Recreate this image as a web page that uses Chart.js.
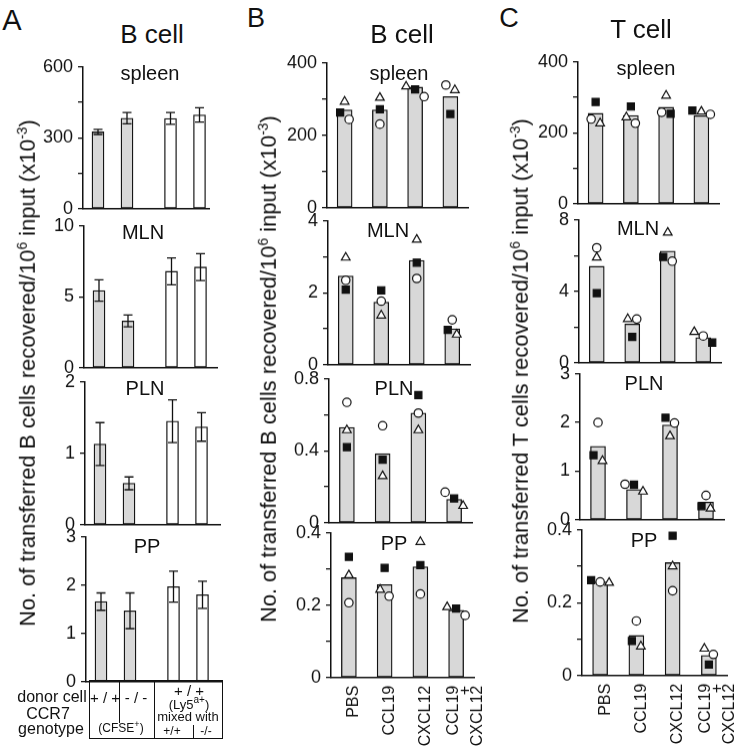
<!DOCTYPE html>
<html>
<head>
<meta charset="utf-8">
<script src="https://cdn.jsdelivr.net/npm/chart.js@4/dist/chart.umd.min.js"></script>
<style>
  body { margin: 0; background: #fff; }
  #fig { position: relative; width: 734px; height: 746px; overflow: hidden;
         font-family: "Liberation Sans", Arial, Helvetica, sans-serif; color: #111; }
  .t { position: absolute; white-space: nowrap; transform: translate(-50%, -50%); line-height: 1; }
  .ln { position: absolute; background: #111; }
</style>
</head>
<body>
<div id="fig"></div>
<script>
// ---- data ----
// panel A: mean +/- error, CCR7 genotype groups
const aGroups = ["+/+", "-/-", "+/+ mixed", "-/- mixed"];
const aSpleen = [325, 383, 382, 397];
const aSpleenErr = [11, 24, 25, 30];
const aMln = [5.45, 3.3, 6.8, 7.1];
const aMlnErr = [0.75, 0.42, 0.95, 0.95];
const aPln = [1.13, 0.58, 1.45, 1.37];
const aPlnErr = [0.3, 0.09, 0.3, 0.2];
const aPp = [1.66, 1.47, 1.97, 1.8];
const aPpErr = [0.18, 0.37, 0.32, 0.28];

// panels B and C: treatments, bar = mean, markers = individual mice
const treatments = ["PBS", "CCL19", "CXCL12", ["CCL19", "+", "CXCL12"]];

const bSpleenMean = [270, 270, 333, 307];
const bSpleenTri = [293, 304, 335, 325];
const bSpleenSq = [263, 272, 327, 259];
const bSpleenCirc = [244, 231, 307, 339];
const bMlnMean = [2.47, 1.74, 2.9, 1.0];
const bMlnTri = [2.98, 1.37, 3.48, 0.84];
const bMlnSq = [2.09, 2.07, 2.84, 0.97];
const bMlnCirc = [2.35, 1.77, 2.4, 1.25];
const bPlnMean = [0.53, 0.384, 0.61, 0.13];
const bPlnTri = [0.515, 0.26, 0.515, 0.094];
const bPlnSq = [0.42, 0.35, 0.71, 0.135];
const bPlnCirc = [0.67, 0.54, 0.61, 0.17];
const bPpMean = [0.276, 0.257, 0.306, 0.186];
const bPpTri = [0.283, 0.243, 0.375, 0.195];
const bPpSq = [0.334, 0.303, 0.311, 0.191];
const bPpCirc = [0.207, 0.225, 0.231, 0.172];

const cSpleenMean = [255, 249, 272, 248];
const cSpleenTri = [227, 244, 305, 260];
const cSpleenSq = [287, 274, 254, 263];
const cSpleenCirc = [239, 227, 258, 252];
const cMlnMean = [5.4, 2.17, 6.25, 1.41];
const cMlnTri = [5.9, 2.45, 7.29, 1.73];
const cMlnSq = [3.9, 1.45, 5.93, 1.13];
const cMlnCirc = [6.44, 2.45, 5.69, 1.5];
const cPlnMean = [1.51, 0.62, 1.95, 0.36];
const cPlnTri = [1.21, 0.58, 1.72, 0.23];
const cPlnSq = [1.33, 0.72, 2.1, 0.28];
const cPlnCirc = [2.0, 0.73, 1.99, 0.5];
const cPpMean = [0.257, 0.11, 0.31, 0.055];
const cPpTri = [0.255, 0.08, 0.30, 0.074];
const cPpSq = [0.262, 0.095, 0.384, 0.03];
const cPpCirc = [0.257, 0.15, 0.233, 0.058];

// ---- layout ----
const FONT = '"Liberation Sans", Arial, Helvetica, sans-serif';
const INK = "#111";
const GRAY = "#d8d8d8";
const aSlots = [1, 2, 3.5, 4.5];   // slot positions for panel A groups (gap before mixed)
const aFill = [GRAY, GRAY, "#fff", "#fff"];

Chart.defaults.font.family = FONT;
Chart.defaults.color = INK;

const fig = document.getElementById("fig");

function text(str, x, y, size, extra) {
  const d = document.createElement("div");
  d.className = "t";
  d.innerHTML = str;
  d.style.left = x + "px";
  d.style.top = y + "px";
  d.style.fontSize = size + "px";
  if (extra) Object.assign(d.style, extra);
  fig.appendChild(d);
  return d;
}
function line(x, y, w, h) {
  const d = document.createElement("div");
  d.className = "ln";
  Object.assign(d.style, { left: x + "px", top: y + "px", width: w + "px", height: h + "px" });
  fig.appendChild(d);
}

// error bars for panel A
const errBars = {
  id: "errBars",
  afterDatasetsDraw(chart, args, opts) {
    if (!opts.errs) return;
    const meta = chart.getDatasetMeta(0);
    const ys = chart.scales.y;
    const vals = opts.vals;
    const ctx = chart.ctx;
    ctx.save();
    ctx.strokeStyle = INK;
    ctx.lineWidth = 1.3;
    meta.data.forEach((bar, i) => {
      const top = ys.getPixelForValue(vals[i] + opts.errs[i]);
      const bot = ys.getPixelForValue(vals[i] - opts.errs[i]);
      ctx.beginPath();
      ctx.moveTo(bar.x, top); ctx.lineTo(bar.x, bot);
      ctx.moveTo(bar.x - 4.5, top); ctx.lineTo(bar.x + 4.5, top);
      ctx.moveTo(bar.x - 4.5, bot); ctx.lineTo(bar.x + 4.5, bot);
      ctx.stroke();
    });
    ctx.restore();
  }
};

// spread markers sideways when they overlap in the same column
const dodge = {
  id: "dodge",
  afterDatasetsUpdate(chart) {
    const metas = chart.data.datasets.map((d, i) => chart.getDatasetMeta(i)).filter(m => m.type === "line");
    if (!metas.length) return;
    const n = chart.data.labels.length;
    for (let i = 0; i < n; i++) {
      const pts = metas.map(m => m.data[i]).filter(Boolean).sort((a, b) => a.y - b.y);
      let groups = [], cur = [pts[0]];
      for (let k = 1; k < pts.length; k++) {
        if (pts[k].y - cur[cur.length - 1].y < 8) cur.push(pts[k]);
        else { groups.push(cur); cur = [pts[k]]; }
      }
      groups.push(cur);
      groups.forEach(g => {
        if (g.length > 1) g.forEach((p, j) => { p.x += (j - (g.length - 1) / 2) * 9; });
      });
    }
  }
};

// vertical category names under the bottom row of B and C
const rotLabels = {
  id: "rotLabels",
  afterDraw(chart, args, opts) {
    if (!opts.show) return;
    const xs = chart.scales.x;
    const ctx = chart.ctx;
    ctx.save();
    ctx.fillStyle = INK;
    ctx.font = "16px " + FONT;
    ctx.textAlign = "right";
    ctx.textBaseline = "middle";
    chart.data.labels.forEach((lab, i) => {
      const lines = Array.isArray(lab) ? lab : [lab];
      const cx = xs.getPixelForValue(i);
      lines.forEach((s, j) => {
        const x = lines.length > 1 ? cx - 3 + j * 12 : cx + 5;
        ctx.save();
        ctx.translate(x, xs.top + 8);
        ctx.rotate(-Math.PI / 2);
        ctx.fillText(s, 0, 0);
        ctx.restore();
      });
    });
    ctx.restore();
  }
};

function fmt(v, lab) {
  return Math.abs(v / lab - Math.round(v / lab)) < 1e-6 ? String(+v.toFixed(2)) : "";
}

function build(s) {
  const YW = 60, PT = 14;
  const PR = s.bottom ? 40 : 6;
  const XH = s.bottom ? 70 : 2;
  const wantW = s.xEnd - s.axisX, wantH = s.zero - s.top;
  let w = wantW + YW + PR, h = wantH + PT + XH;
  const wrap = document.createElement("div");
  wrap.style.cssText = `position:absolute;left:${s.axisX - YW}px;top:${s.top - PT}px;width:${w}px;height:${h}px;`;
  const cv = document.createElement("canvas");
  wrap.appendChild(cv);
  fig.appendChild(wrap);

  const yScale = {
    min: 0, max: s.max,
    afterFit: sc => { sc.width = YW; },
    border: { display: true, color: INK, width: 1.5 },
    grid: { drawOnChartArea: false, drawTicks: true, tickLength: 5, color: INK, lineWidth: 1.3 },
    ticks: { stepSize: s.step, autoSkip: false, padding: 5, font: { size: 18 }, color: INK,
             callback: v => fmt(v, s.lab) }
  };

  let data, xScale;
  const plugins = { legend: { display: false }, tooltip: { enabled: false },
                    rotLabels: { show: !!s.bottom } };
  if (s.errs) {
    const pxPerSlot = 29;
    const xmin = aSlots[0] - 15 / pxPerSlot;
    xScale = {
      type: "linear", min: xmin, max: xmin + wantW / pxPerSlot, offset: false,
      afterFit: sc => { sc.height = XH; },
      border: { display: true, color: INK, width: 1.5 },
      grid: { display: false }, ticks: { display: false }
    };
    data = {
      datasets: [{
        type: "bar",
        data: s.vals.map((v, i) => ({ x: aSlots[i], y: v })),
        backgroundColor: aFill, borderColor: INK, borderWidth: 1.3,
        borderSkipped: false, barThickness: 12
      }]
    };
    plugins.errBars = { errs: s.errs, vals: s.vals };
  } else {
    xScale = {
      type: "category",
      afterFit: sc => { sc.height = XH; },
      border: { display: true, color: INK, width: 1.5 },
      grid: { display: false, drawTicks: false },
      ticks: { display: false }
    };
    const pt = (vals, style, fill, r) => ({
      type: "line", data: vals, showLine: false, order: 1, clip: false,
      pointStyle: style, pointRadius: r, pointBackgroundColor: fill,
      pointBorderColor: INK, pointBorderWidth: 1.2
    });
    data = {
      labels: treatments,
      datasets: [
        { type: "bar", data: s.vals, order: 2, backgroundColor: GRAY, borderColor: INK,
          borderWidth: 1.3, borderSkipped: false, barThickness: 15 },
        pt(s.tri, "triangle", "#fff", 5),
        pt(s.circ, "circle", "#fff", 4.2),
        pt(s.sq, "rect", INK, 5)
      ]
    };
  }

  const chart = new Chart(cv, {
    data,
    options: {
      responsive: true, maintainAspectRatio: false, animation: false,
      layout: { padding: { top: PT, right: PR, left: 0, bottom: 0 } },
      scales: { x: xScale, y: yScale },
      plugins
    },
    plugins: [errBars, dodge, rotLabels]
  });

  // pin the plot area onto the reference axes
  let ca = chart.chartArea;
  const dh = wantH - (ca.bottom - ca.top), dw = wantW - (ca.right - ca.left);
  if (Math.abs(dh) > 0.5 || Math.abs(dw) > 0.5) {
    wrap.style.width = (w + dw) + "px";
    wrap.style.height = (h + dh) + "px";
    chart.resize();
    ca = chart.chartArea;
  }
  wrap.style.left = (s.axisX - ca.left) + "px";
  wrap.style.top = (s.top - ca.top) + "px";
  return chart;
}

const specs = [
  { axisX: 83, xEnd: 209, top: 67, zero: 208, max: 600, step: 150, lab: 300, vals: aSpleen, errs: aSpleenErr },
  { axisX: 84, xEnd: 217, top: 226, zero: 367, max: 10, step: 5, lab: 5, vals: aMln, errs: aMlnErr },
  { axisX: 85, xEnd: 220, top: 382, zero: 524, max: 2, step: 1, lab: 1, vals: aPln, errs: aPlnErr },
  { axisX: 86, xEnd: 221, top: 537, zero: 681, max: 3, step: 1, lab: 1, vals: aPp, errs: aPpErr },

  { axisX: 327, xEnd: 468, top: 63, zero: 207, max: 400, step: 100, lab: 200,
    vals: bSpleenMean, tri: bSpleenTri, sq: bSpleenSq, circ: bSpleenCirc },
  { axisX: 328, xEnd: 470, top: 221, zero: 364, max: 4, step: 1, lab: 2,
    vals: bMlnMean, tri: bMlnTri, sq: bMlnSq, circ: bMlnCirc },
  { axisX: 329, xEnd: 472, top: 379, zero: 522, max: 0.8, step: 0.2, lab: 0.4,
    vals: bPlnMean, tri: bPlnTri, sq: bPlnSq, circ: bPlnCirc },
  { axisX: 331, xEnd: 474, top: 533, zero: 677, max: 0.4, step: 0.1, lab: 0.2, bottom: true,
    vals: bPpMean, tri: bPpTri, sq: bPpSq, circ: bPpCirc },

  { axisX: 578, xEnd: 719, top: 62, zero: 203, max: 400, step: 100, lab: 200,
    vals: cSpleenMean, tri: cSpleenTri, sq: cSpleenSq, circ: cSpleenCirc },
  { axisX: 579, xEnd: 721, top: 220, zero: 362, max: 8, step: 2, lab: 4,
    vals: cMlnMean, tri: cMlnTri, sq: cMlnSq, circ: cMlnCirc },
  { axisX: 580, xEnd: 724, top: 374, zero: 519, max: 3, step: 1, lab: 1,
    vals: cPlnMean, tri: cPlnTri, sq: cPlnSq, circ: cPlnCirc },
  { axisX: 582, xEnd: 727, top: 530, zero: 675, max: 0.4, step: 0.1, lab: 0.2, bottom: true,
    vals: cPpMean, tri: cPpTri, sq: cPpSq, circ: cPpCirc }
];
specs.forEach(build);

// ---- labels ----
text("A", 12, 20, 29);
text("B", 256, 18, 27);
text("C", 509, 18, 27);
text("B cell", 152, 34, 26);
text("B cell", 402, 34, 26);
text("T cell", 641, 29, 26);

[["spleen", 150, 73], ["MLN", 143, 232], ["PLN", 145, 388], ["PP", 147, 546],
 ["spleen", 399, 73], ["MLN", 388, 230], ["PLN", 394, 388], ["PP", 394, 543],
 ["spleen", 646, 68], ["MLN", 638, 228], ["PLN", 644, 383], ["PP", 644, 540]]
  .forEach(([s, x, y]) => text(s, x, y, 20));

const yTitle = cell => `No. of transferred ${cell} cells recovered/10<sup style="font-size:14px">6</sup> input (x10<sup style="font-size:14px">-3</sup>)`;
const rot = { transform: "translate(-50%, -50%) rotate(-90deg)" };
text(yTitle("B"), 27, 373, 22, rot);
text(yTitle("B"), 268, 369, 22, rot);
text(yTitle("T"), 520, 371, 22, rot);

// genotype table under panel A
const bx = 89, by = 680, bw = 133, bh = 58, bdiv = 154;
line(bx, by, bw, 1.3);
line(bx, by + bh, bw, 1.3);
line(bx, by, 1.3, bh);
line(bx + bw, by, 1.3, bh + 1);
line(bdiv, by, 1.3, bh);
line(119, by, 1.3, 43);
line(193, 725, 1.3, 13);
text("donor cell", 52, 697, 16);
text("CCR7", 48, 714, 16);
text("genotype", 51, 729, 16);
text("+ / +", 105, 697, 15);
text("- / -", 136, 697, 15);
text("(CFSE<sup style=\"font-size:9px\">+</sup>)", 121, 727, 12);
text("+ / +", 189, 690, 15);
text("(Ly5<sup style=\"font-size:10px\">a+</sup>)", 189, 703, 13);
text("mixed with", 188, 716, 13);
text("+/+", 172, 731, 12);
text("-/-", 206, 731, 12);
</script>
</body>
</html>
